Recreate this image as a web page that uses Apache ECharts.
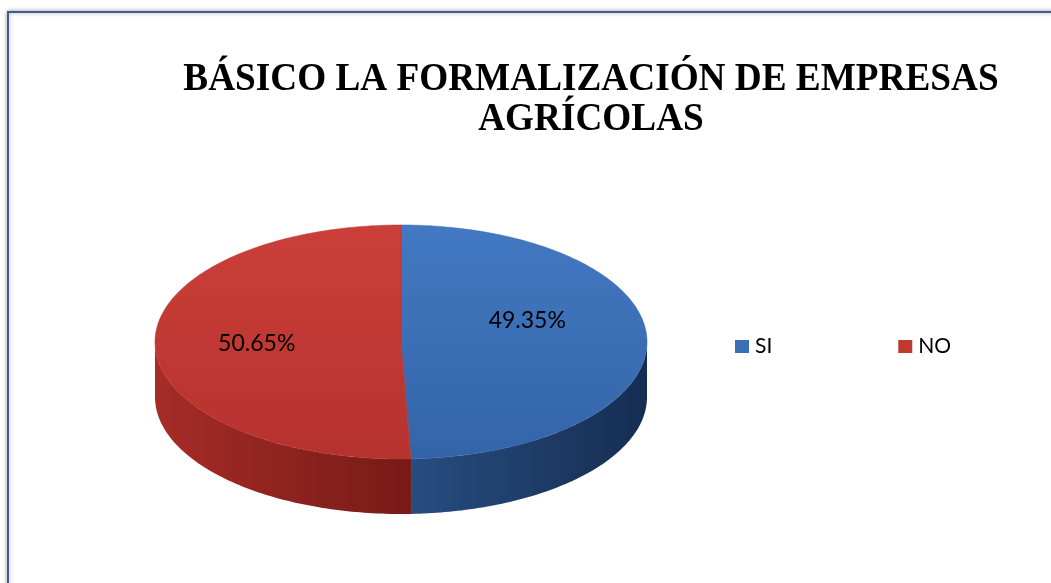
<!DOCTYPE html>
<html>
<head>
<meta charset="utf-8">
<script src="https://cdn.jsdelivr.net/npm/echarts@6/dist/echarts.min.js"></script>
<style>
html,body{margin:0;padding:0;background:#fff;}
#chart{width:1051px;height:583px;}
</style>
</head>
<body>
<div id="chart"></div>
<script>
// ---- data ----
const categories = ['SI', 'NO'];
const values = [49.35, 50.65];
const titleLines = ['BÁSICO LA FORMALIZACIÓN DE EMPRESAS', 'AGRÍCOLAS'];

// ---- style ----
const topColors = [
  ['#4279c2', '#3464a8'],
  ['#cb3f39', '#b6322e']
];
const sideColors = [
  ['#284e82', '#162d52'],
  ['#a62c27', '#781b18']
];
const legendColors = ['#3a6fb5', '#c0392f'];

const chart = echarts.init(document.getElementById('chart'));
const total = values.reduce((a, b) => a + b, 0);

// pie layout (pixels)
const P = { cx: 401, cy: 342, rx: 246, ry: 117, depth: 55 };

function arcPts(a1, a2, dy) {
  const pts = [];
  const n = Math.max(2, Math.ceil((a2 - a1) / (Math.PI / 180)));
  for (let i = 0; i <= n; i++) {
    const a = a1 + (a2 - a1) * i / n;
    pts.push([P.cx + P.rx * Math.cos(a), P.cy + P.ry * Math.sin(a) + dy]);
  }
  return pts;
}

function renderSlice(params, api) {
  const idx = params.seriesIndex;
  const v = api.value(0);
  let start = 0;
  for (let i = 0; i < idx; i++) start += values[i];
  const a1 = -Math.PI / 2 + 2 * Math.PI * start / total;
  const a2 = a1 + 2 * Math.PI * v / total;
  const children = [];
  // side wall (front half only)
  const s1 = Math.max(a1, 0), s2 = Math.min(a2, Math.PI);
  if (s2 > s1) {
    const topEdge = arcPts(s1, s2, 0);
    const botEdge = arcPts(s1, s2, P.depth).reverse();
    const sc = sideColors[idx];
    children.push({
      type: 'polygon',
      z2: 1,
      shape: { points: topEdge.concat(botEdge) },
      style: {
        fill: new echarts.graphic.LinearGradient(P.cx - P.rx, 0, P.cx + P.rx, 0,
          idx === 0
            ? [{ offset: 0.5, color: sc[0] }, { offset: 1, color: sc[1] }]
            : [{ offset: 0, color: sc[0] }, { offset: 0.5, color: sc[1] }], true),
        stroke: null
      }
    });
  }
  // top face
  const tc = topColors[idx];
  children.push({
    type: 'polygon',
    z2: 10,
    shape: { points: [[P.cx, P.cy]].concat(arcPts(a1, a2, 0)) },
    style: {
      fill: new echarts.graphic.LinearGradient(0, P.cy - P.ry, 0, P.cy + P.ry,
        [{ offset: 0, color: tc[0] }, { offset: 1, color: tc[1] }], true),
      stroke: tc[1],
      lineWidth: 0.5
    }
  });
  // label
  const m = (a1 + a2) / 2;
  const f = 0.55;
  const pct = (v / total * 100).toFixed(2) + '%';
  children.push({
    type: 'text',
    z2: 20,
    x: P.cx + P.rx * f * Math.cos(m) - 9,
    y: P.cy + P.ry * f * Math.sin(m) - 10 - 10 * Math.cos(m),
    style: {
      text: pct,
      fill: '#000',
      font: '23px Lato',
      align: 'center',
      verticalAlign: 'middle'
    }
  });
  return { type: 'group', children: children };
}

const series = categories.map((c, i) => ({
  name: c,
  type: 'custom',
  coordinateSystem: 'none',
  itemStyle: { color: legendColors[i] },
  renderItem: renderSlice,
  data: [[values[i]]],
  silent: true,
  animation: false
}));

chart.setOption({
  backgroundColor: '#fff',
  animation: false,
  legend: {
    data: categories,
    left: 730,
    top: 331,
    itemWidth: 14,
    itemHeight: 13,
    itemGap: 126,
    icon: 'rect',
    textStyle: { fontFamily: 'Lato', fontSize: 21, color: '#000', padding: [0, 0, 0, 1] }
  },
  graphic: [
    {
      type: 'rect',
      z: -1,
      shape: { x: 8, y: 12, width: 1100, height: 700 },
      style: { fill: '#fff', stroke: '#3b5f94', lineWidth: 2, shadowColor: 'rgba(0,0,0,0.35)', shadowBlur: 4 }
    },
    {
      type: 'text',
      x: 591,
      y: 60,
      scaleX: 0.955,
      style: {
        text: titleLines.join('\n'),
        font: 'bold 39px "Liberation Serif"',
        fill: '#000',
        align: 'center',
        lineHeight: 40
      }
    }
  ],
  series: series
});
</script>
</body>
</html>
